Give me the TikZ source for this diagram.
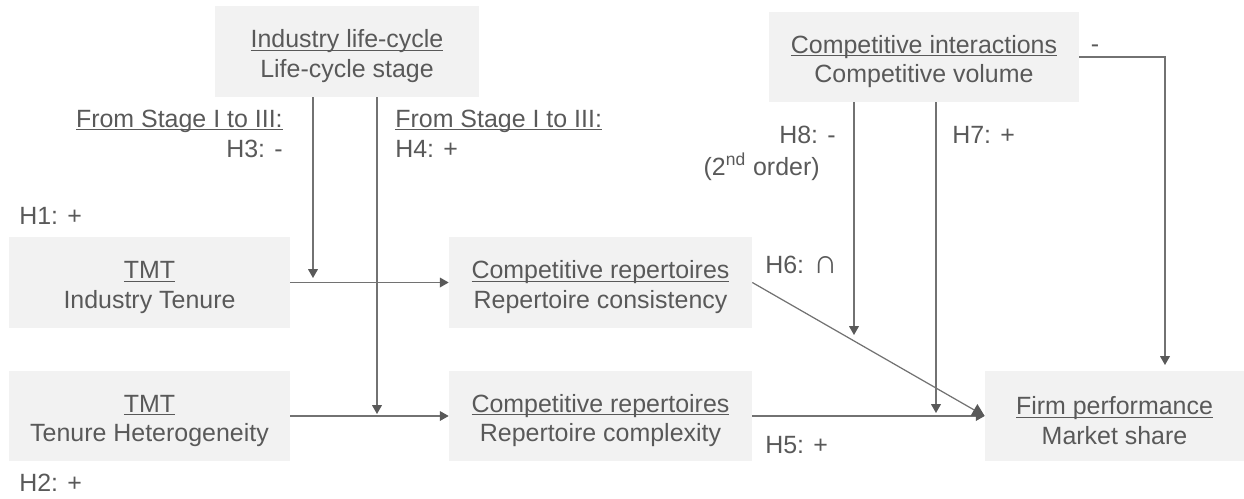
\documentclass[tikz,border=0pt]{standalone}
\usepackage{fontspec}
\setmainfont{Liberation Sans}
\usetikzlibrary{arrows.meta}
\definecolor{boxfill}{HTML}{F2F2F2}
\definecolor{txt}{HTML}{595959}
\definecolor{ln}{HTML}{727272}
\newcommand\ulx[1]{\setbox0\hbox{#1}\rlap{\rule[-1.9pt]{\wd0}{0.75pt}}\box0}
\newcommand\tstrut{\rule{0pt}{15.5pt}}
\begin{document}
\begin{tikzpicture}[x=0.02cm,y=-0.02cm,
  every node/.style={text=txt, font=\fontsize{14.2}{17}\selectfont},
  varbox/.style={fill=boxfill, inner sep=0pt, align=center},
  lbl/.style={inner sep=0pt},
  conn/.style={draw=ln, line width=0.7pt, -{Triangle[length=5pt,width=5.5pt,color=txt]}},
  bigtip/.style={-{Triangle[length=7pt,width=7.5pt,color=txt]}}]
\useasboundingbox (0,0) rectangle (1244,498);

% boxes
\node[varbox, minimum width=5.28cm, minimum height=1.82cm] (ind) at (347,51.5) {\tstrut\ulx{Industry life-cycle}\\Life-cycle stage};
\node[varbox, minimum width=6.2cm, minimum height=1.8cm] (ci) at (924,57) {\tstrut\ulx{Competitive interactions}\\Competitive volume};
\node[varbox, minimum width=5.62cm, minimum height=1.82cm] (tmt1) at (149.5,282.5) {\tstrut\ulx{TMT}\\Industry Tenure};
\node[varbox, minimum width=5.62cm, minimum height=1.8cm] (tmt2) at (149.5,416) {\tstrut\ulx{TMT}\\Tenure Heterogeneity};
\node[varbox, minimum width=6.06cm, minimum height=1.82cm] (cr1) at (600.5,282.5) {\tstrut\ulx{Competitive repertoires}\\Repertoire consistency};
\node[varbox, minimum width=6.06cm, minimum height=1.8cm] (cr2) at (600.5,416) {\tstrut\ulx{Competitive repertoires}\\Repertoire complexity};
\node[varbox, minimum width=5.18cm, minimum height=1.8cm] (firm) at (1114.5,416) {\tstrut\ulx{Firm performance}\\Market share};

% connector end points
\coordinate (h3end) at (313,278);
\coordinate (h4end) at (377,414);
\coordinate (h8end) at (854,335);
\coordinate (h7end) at (936,413);
\coordinate (negend) at (1165,365);

% connectors
\draw[conn] (tmt1) -- (cr1);
\draw[conn] (tmt2) -- (cr2);
\draw[conn] (ind.south -| h3end) -- (h3end);
\draw[conn] (ind.south -| h4end) -- (h4end);
\draw[conn] (ci.south -| h8end) -- (h8end);
\draw[conn] (ci.south -| h7end) -- (h7end);
\draw[conn] (ci.east) -| (negend);
\draw[conn] (cr2) -- (firm);
\draw[conn, bigtip] (cr1.east) -- (firm.west);

% labels
\node[lbl, anchor=base east] (l3a) at (283,127) {\ulx{From Stage I to III:}};
\node[lbl, anchor=base east] (l3b) at (283,157) {H3: -};
\node[lbl, anchor=base west] (l4a) at (395,127) {\ulx{From Stage I to III:}};
\node[lbl, anchor=base west] (l4b) at (395,157) {H4: +};
\node[lbl, anchor=base west] (l1) at (19,224) {H1: +};
\node[lbl, anchor=base west] (l2) at (19,491) {H2: +};
\node[lbl, anchor=base east] (l8a) at (836,143) {H8: -};
\node[lbl, anchor=base east] (l8b) at (820,175) {(2\textsuperscript{nd} order)};
\node[lbl, anchor=base west] (l7) at (952,143) {H7: +};
\node[lbl, anchor=base] (lneg) at (1095,52) {-};
\node[lbl, anchor=base west] (l6) at (765,273) {H6: \scalebox{1.35}{∩}};
\node[lbl, anchor=base west] (l5) at (765,453) {H5: +};
\end{tikzpicture}
\end{document}
